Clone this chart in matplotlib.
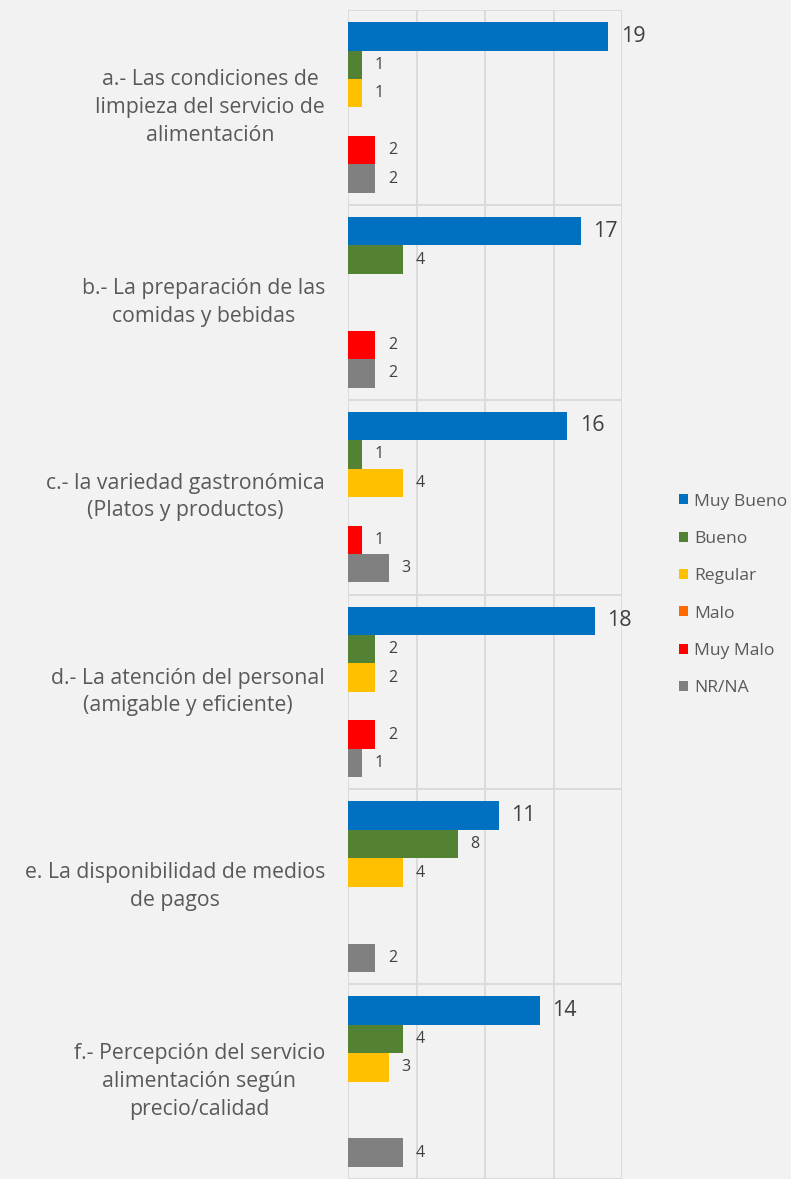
import matplotlib
matplotlib.use("Agg")
import matplotlib.pyplot as plt
from matplotlib.patches import Patch
import numpy as np

plt.rcParams['font.family'] = ['Open Sans', 'DejaVu Sans']

categories = [
    "a.- Las condiciones de\nlimpieza del servicio de\nalimentación",
    "b.- La preparación de las\ncomidas y bebidas",
    "c.- la variedad gastronómica\n(Platos y productos)",
    "d.- La atención del personal\n(amigable y eficiente)",
    "e. La disponibilidad de medios\nde pagos",
    "f.- Percepción del servicio\nalimentación según\nprecio/calidad",
]
series_names = ["Muy Bueno", "Bueno", "Regular", "Malo", "Muy Malo", "NR/NA"]
muy_bueno = [19, 17, 16, 18, 11, 14]
bueno = [1, 4, 1, 2, 8, 4]
regular = [1, 0, 4, 2, 4, 3]
malo = [0, 0, 0, 0, 0, 0]
muy_malo = [2, 2, 1, 2, 0, 0]
nr_na = [2, 2, 3, 1, 2, 4]
series_values = [muy_bueno, bueno, regular, malo, muy_malo, nr_na]
colors = ["#0070C0", "#548235", "#FFC000", "#FF6A00", "#FF0000", "#808080"]

bg = "#F2F2F2"
grid_c = "#D9D9D9"
txt_c = "#595959"

fig = plt.figure(figsize=(7.91, 11.79), dpi=100, facecolor=bg)
ax = fig.add_axes([348 / 791, 0.0, 274 / 791, 1 - 10 / 1179])
ax.set_facecolor(bg)

n = len(categories)
y = np.arange(n)
h = 0.146
for j, (name, vals, c) in enumerate(zip(series_names, series_values, colors)):
    pos = y + (j - 2.5) * h
    bars = ax.barh(pos, vals, height=h, color=c, label=name, zorder=3)
    for b, v in zip(bars, vals):
        if v == 0:
            continue
        fs = 15.5 if j == 0 else 11.5
        ax.annotate(str(v), (b.get_width(), b.get_y() + b.get_height() / 2),
                    xytext=(9, 0), textcoords="offset points",
                    ha="left", va="center", fontsize=fs, color="#404040")

ax.set_xlim(0, 20)
ax.set_ylim(n - 0.5, -0.5)
for xv in [0, 5, 10, 15, 20]:
    ax.axvline(xv, color=grid_c, lw=1.3, zorder=1)
for yv in np.arange(-0.5, n, 1.0):
    ax.axhline(yv, color=grid_c, lw=1.3, zorder=1)
for s in ax.spines.values():
    s.set_visible(False)
ax.set_xticks([])
ax.set_yticks([])

for i, lab in enumerate(categories):
    ax.text(-23 / 274, i, lab, transform=ax.get_yaxis_transform(),
            ha="right", va="center", multialignment="center",
            fontsize=15.3, color=txt_c, linespacing=1.42)

handles = [Patch(facecolor=c, label=nm) for nm, c in zip(series_names, colors)]
leg = fig.legend(handles=handles, loc="center left",
                 bbox_to_anchor=(672 / 791, 1 - 595 / 1179),
                 frameon=False, fontsize=12.6, labelcolor=txt_c,
                 handlelength=0.5, handleheight=0.5, handletextpad=0.35,
                 labelspacing=1.22, borderaxespad=0)

fig.savefig("out.png", dpi=100, facecolor=bg)
